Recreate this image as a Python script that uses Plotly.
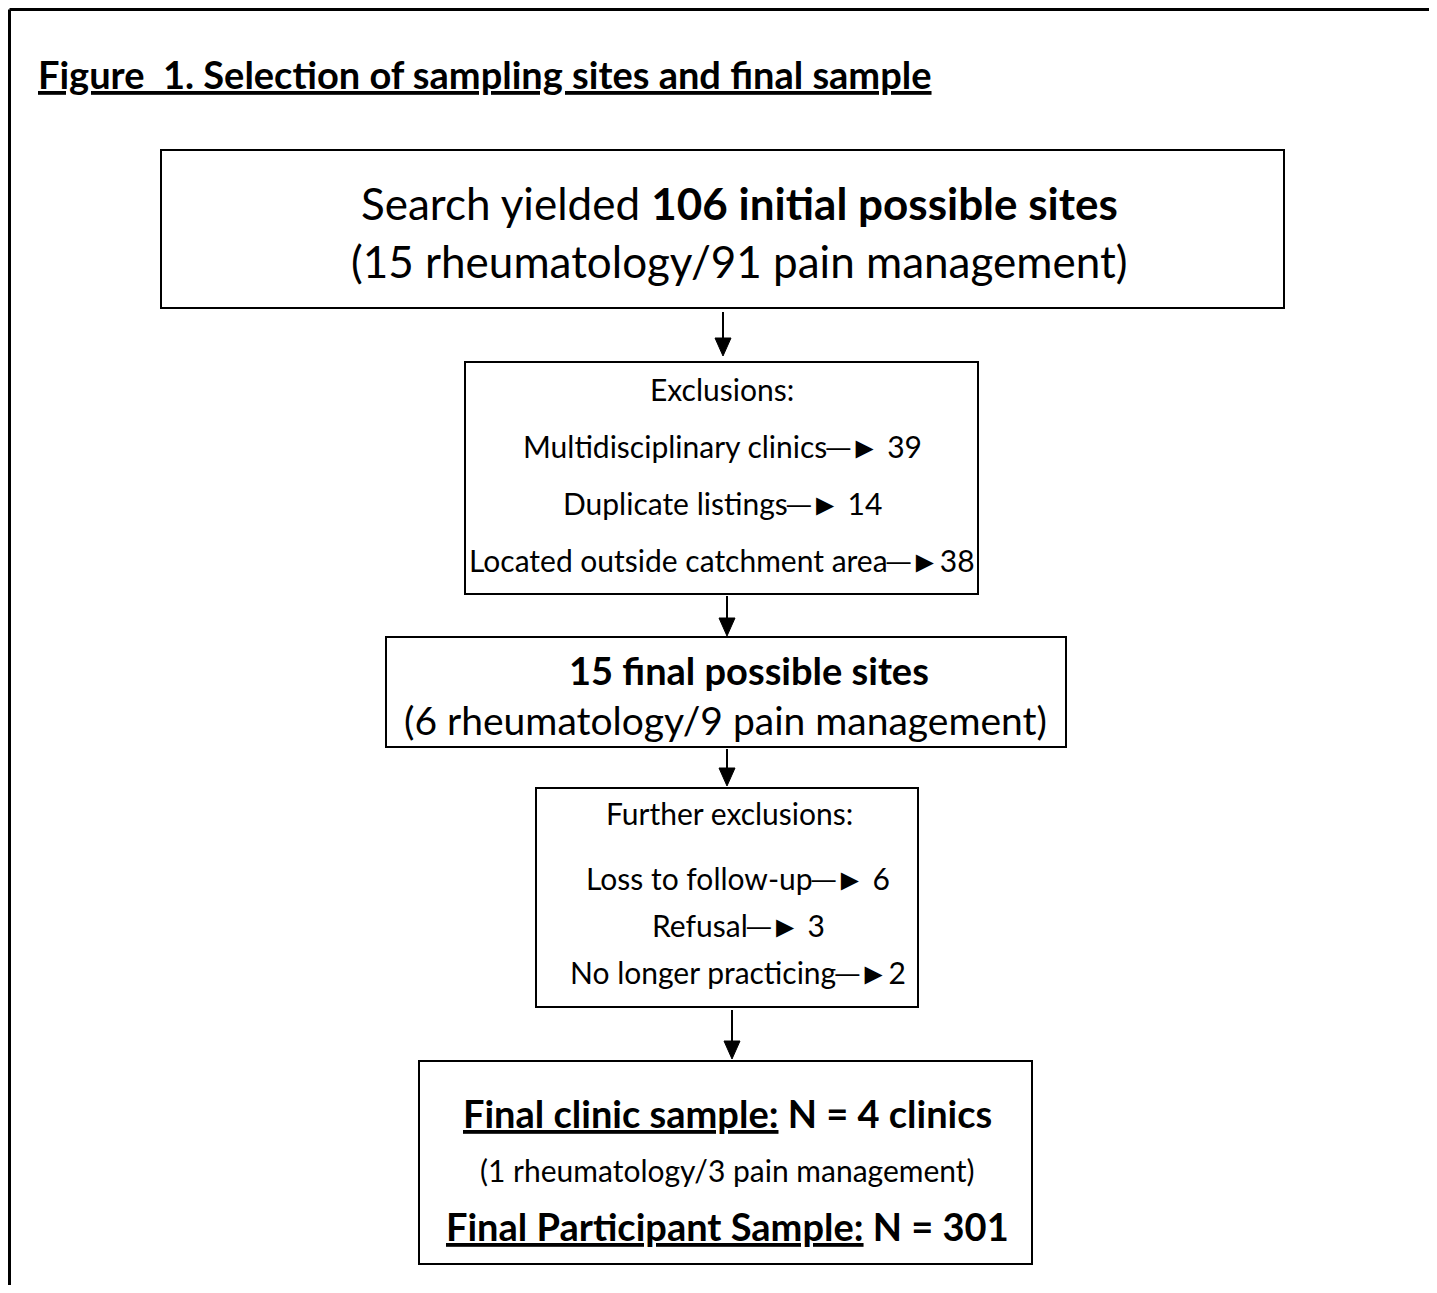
import plotly.graph_objects as go

W, H = 1437, 1293
PAD = 8  # browser body margin
FONT = "Lato, Carlito, 'Open Sans', sans-serif"
ARR = "\u2500\u25BA"

title_text = "<b><u>Figure  1. Selection of sampling sites and final sample</u></b>"

box1_lines = ["Search yielded <b>106 initial possible sites</b>",
              "(15 rheumatology/91 pain management)"]
box2_lines = ["Exclusions:",
              f"Multidisciplinary clinics{ARR} 39",
              f"Duplicate listings{ARR} 14",
              f"Located outside catchment area{ARR}38"]
box3_lines = ["<b>15 final possible sites</b>",
              "(6 rheumatology/9 pain management)"]
box4_lines = ["Further exclusions:",
              f"Loss to follow-up{ARR} 6",
              f"Refusal{ARR} 3",
              f"No longer practicing{ARR}2"]
box5_lines = ["<b><u>Final clinic sample:</u> N = 4 clinics</b>",
              "(1 rheumatology/3 pain management)",
              "<b><u>Final Participant Sample:</u> N = 301</b>"]

# layout (pixel coords of the page)
boxes = [(161, 150, 1284, 308), (465, 362, 978, 594), (386, 637, 1066, 747),
         (536, 788, 918, 1007), (419, 1061, 1032, 1264)]
text_specs = [
    (box1_lines, [739, 739], [203, 261], [44, 44]),
    (box2_lines, [722, 722, 722, 722], [389, 446, 503, 560], [30, 30, 30, 30]),
    (box3_lines, [749, 725], [670, 720], [38, 39]),
    (box4_lines, [729, 738, 738, 738], [813, 878, 925, 972], [30, 30, 30, 30]),
    (box5_lines, [727, 727, 727], [1113, 1170, 1226], [38, 30, 38]),
]
arrows = [(723, 312, 356), (727, 596, 636), (727, 749, 786), (732, 1010, 1059)]

fig = go.Figure()
shapes = []
annotations = []

# outer frame (top and left)
shapes.append(dict(type="line", x0=9.5, y0=9.5, x1=W + 5, y1=9.5, line=dict(color="black", width=3)))
shapes.append(dict(type="line", x0=9.5, y0=9.5, x1=9.5, y1=H + 5, line=dict(color="black", width=3)))

for (x0, y0, x1, y1) in boxes:
    shapes.append(dict(type="rect", x0=x0, y0=y0, x1=x1, y1=y1,
                       line=dict(color="black", width=2), fillcolor="rgba(0,0,0,0)"))

for lines, xcs, ys, sizes in text_specs:
    for t, xc, y, s in zip(lines, xcs, ys, sizes):
        annotations.append(dict(x=xc, y=y, text=t, showarrow=False, xanchor="center",
                                yanchor="middle", font=dict(family=FONT, size=s, color="black")))

for (x, ya, yb) in arrows:
    head = 18
    shapes.append(dict(type="line", x0=x, y0=ya, x1=x, y1=yb - head,
                       line=dict(color="black", width=2)))
    shapes.append(dict(type="path",
                       path=f"M {x-8} {yb-head} L {x+8} {yb-head} L {x} {yb} Z",
                       fillcolor="black", line=dict(color="black", width=1)))

annotations.append(dict(x=36, y=74, text=title_text, showarrow=False, xanchor="left",
                        yanchor="middle", font=dict(family=FONT, size=38, color="black")))

fig.update_layout(
    width=W - 2 * PAD, height=H - 2 * PAD, margin=dict(l=0, r=0, t=0, b=0),
    paper_bgcolor="white", plot_bgcolor="white",
    xaxis=dict(range=[PAD, W - PAD], visible=False, fixedrange=True),
    yaxis=dict(range=[H - PAD, PAD], visible=False, fixedrange=True),
    shapes=shapes, annotations=annotations, showlegend=False,
)
fig.write_html("out.html", config={"displayModeBar": False})
